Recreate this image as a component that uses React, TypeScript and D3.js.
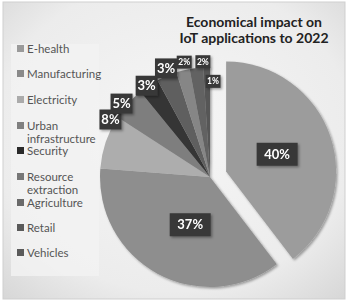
import React from "react";
import * as d3 from "d3";

const categories = ["E-health", "Manufacturing", "Electricity", "Urban infrastructure", "Security", "Resource extraction", "Agriculture", "Retail", "Vehicles"];
const values = [40, 37, 8, 5, 3, 3, 2, 2, 1];
const legendLines = [["E-health"], ["Manufacturing"], ["Electricity"], ["Urban", "infrastructure"], ["Security"], ["Resource", "extraction"], ["Agriculture"], ["Retail"], ["Vehicles"]];

const sliceColors = ["#9c9c9c", "#8e8e8e", "#adadad", "#7e7e7e", "#363636", "#5f5f5f", "#868686", "#626262", "#565656"];
const swatchColors = ["#9a9a9a", "#8a8a8a", "#ababab", "#808080", "#2a2a2a", "#777777", "#6a6a6a", "#5a5a5a", "#5a5a5a"];
const labelRadius = [0.49, 0.47, 1.045, 1.045, 1.01, 1.065, 1.07, 1.05, 0.87];
const labelNudgeDeg = [0, -6, 11.3, -2.2, -0.9, 1.1, 1.6, 3.6, 3.6];
const labelSize = [13, 13, 13, 13, 13, 13, 8.5, 8.5, 8.5];

const W = 348, H = 302;
const cx = 210, cy = 177, R = 110;
const explode = 17;

export default function App() {
  const pie = d3.pie<number>().sort(null).value((d) => d);
  const arcs = pie(values);
  const arc = d3.arc<d3.PieArcDatum<number>>().innerRadius(0).outerRadius(R);
  const legendY = [49, 74, 100, 126, 151, 177, 203, 228, 253];

  return (
    <div style={{ position: "fixed", left: 0, top: 0 }}>
      <svg width={W} height={H} style={{ display: "block" }} fontFamily="Lato, 'Open Sans', sans-serif">
        <defs>
          <radialGradient id="bg" cx="0.5" cy="0.45" r="0.75">
            <stop offset="0" stopColor="#f6f6f6" />
            <stop offset="0.7" stopColor="#ececec" />
            <stop offset="1" stopColor="#d6d6d6" />
          </radialGradient>
          <filter id="sh" x="-30%" y="-30%" width="160%" height="160%">
            <feDropShadow dx="1.5" dy="1.5" stdDeviation="1.2" floodColor="#000" floodOpacity="0.35" />
          </filter>
        </defs>
        <rect x={0} y={0} width={W} height={H} fill="#ffffff" />
        <rect x={3} y={2} width={W - 6} height={H - 5} fill="url(#bg)" stroke="#cfcfcf" strokeWidth={1} />
        <rect x={11} y={44} width={88} height={232} fill="#f2f2f2" opacity={0.8} />

        <text x={254} y={27} textAnchor="middle" fontSize={14} fontWeight="bold" fill="#222">Economical impact on</text>
        <text x={254} y={43} textAnchor="middle" fontSize={14} fontWeight="bold" fill="#222">IoT applications to 2022</text>

        {legendLines.map((lines, i) => (
          <g key={categories[i]}>
            <rect x={17} y={legendY[i] - 4} width={7} height={7} fill={swatchColors[i]} />
            {lines.map((t, j) => (
              <text key={j} x={27} y={legendY[i] + 4 + j * 13} fontSize={11.5} fill="#555">{t}</text>
            ))}
          </g>
        ))}

        <g filter="url(#sh)">
          {arcs.map((a, i) => {
            const mid = (a.startAngle + a.endAngle) / 2;
            const off = i === 0 ? explode : 0;
            const dx = Math.sin(mid) * off, dy = -Math.cos(mid) * off;
            return <path key={i} d={arc(a) || ""} transform={`translate(${cx + dx},${cy + dy})`} fill={sliceColors[i]} />;
          })}
        </g>

        {arcs.map((a, i) => {
          const mid = (a.startAngle + a.endAngle) / 2;
          const off = i === 0 ? explode : 0;
          const ang = mid + (labelNudgeDeg[i] * Math.PI) / 180;
          const r = R * labelRadius[i];
          const x = cx + Math.sin(mid) * off + Math.sin(ang) * r;
          const y = cy - Math.cos(mid) * off - Math.cos(ang) * r;
          const fs = labelSize[i];
          const txt = `${values[i]}%`;
          const big = values[i] >= 10;
          const small = fs < 10;
          const w = big ? 41 : small ? 15 : 22;
          const h = big ? 23 : small ? 13 : 20;
          return (
            <g key={"l" + i}>
              <rect x={x - w / 2} y={y - h / 2} width={w} height={h} fill="#383838" filter="url(#sh)" />
              <text x={x} y={y + fs * 0.36} textAnchor="middle" fontSize={fs} fontWeight="bold" fill="#fff">{txt}</text>
            </g>
          );
        })}
      </svg>
    </div>
  );
}
